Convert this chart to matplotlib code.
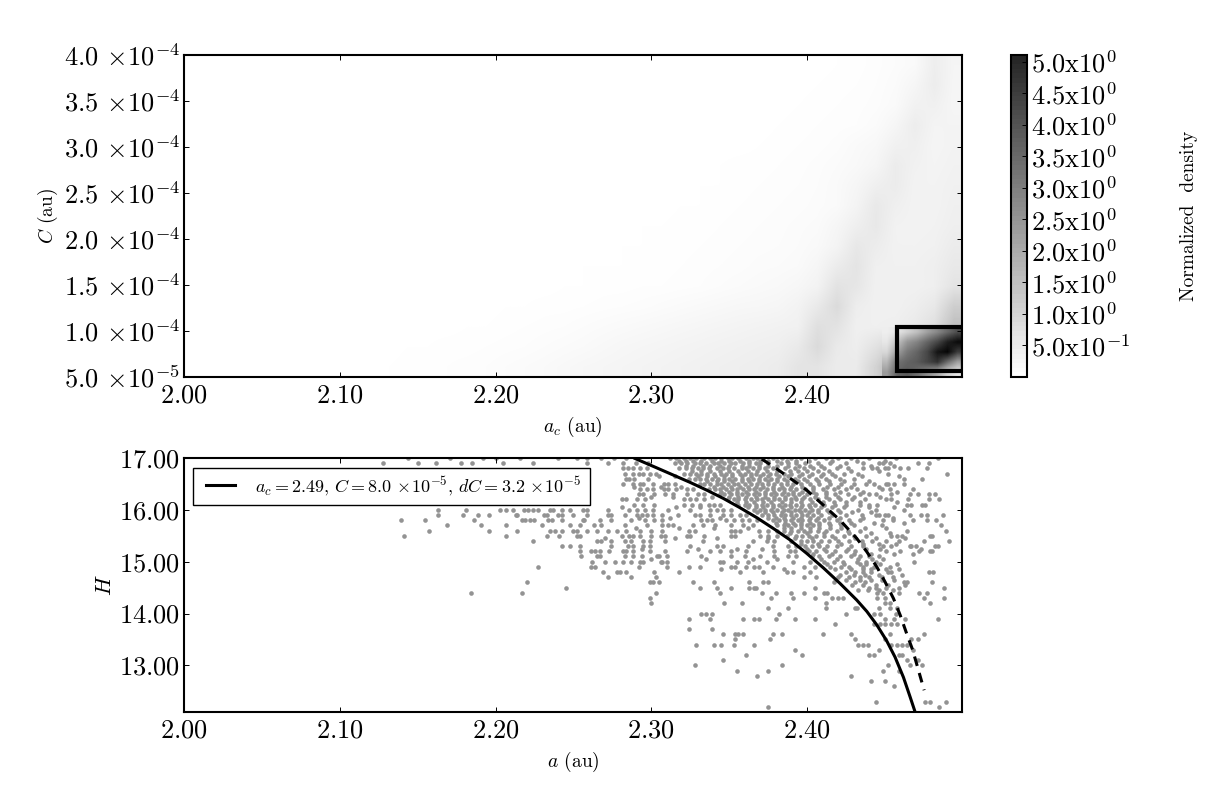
import numpy as np
import matplotlib
matplotlib.use('Agg')
from matplotlib import pyplot as plt
from matplotlib.colors import BoundaryNorm, LinearSegmentedColormap
from matplotlib.cm import ScalarMappable
from matplotlib.patches import Rectangle

plt.rcParams['font.family'] = ['cmr10', 'DejaVu Serif']
plt.rcParams['mathtext.fontset'] = 'cm'
plt.rcParams['axes.formatter.use_mathtext'] = True
plt.rcParams['axes.unicode_minus'] = False

# density, v*100, rows from C=4e-4 down to 5e-5, a from 2.10 to 2.50
density_rows = [
    [0,0,0,0,0,0,0,0,0,0,0,0,0,0,0,0,0,0,0,0,0,0,1,1,1,2,3,5,8,12,36,22],
    [0,0,0,0,0,0,0,0,0,0,0,0,0,0,0,0,0,0,0,0,0,1,1,1,2,3,4,6,10,20,38,20],
    [0,0,0,0,0,0,0,0,0,0,0,0,0,0,0,0,0,0,0,0,1,1,1,2,3,4,5,7,12,28,31,20],
    [0,0,0,0,0,0,0,0,0,0,0,0,0,0,0,0,0,0,0,1,1,1,2,3,4,5,6,10,20,38,24,24],
    [0,0,0,0,0,0,0,0,0,0,0,0,0,0,0,0,0,0,1,1,1,2,3,4,5,7,12,16,30,33,22,26],
    [0,0,0,0,0,0,0,0,0,0,0,0,0,0,0,0,0,1,1,2,3,3,4,5,7,10,14,21,40,29,24,28],
    [0,0,0,0,0,0,0,0,0,0,0,0,0,0,0,1,1,1,2,2,3,4,5,6,8,12,20,33,40,26,26,30],
    [0,0,0,0,0,0,0,0,0,0,0,0,0,1,1,1,1,2,2,3,4,5,6,7,9,12,24,46,33,26,26,32],
    [0,0,0,0,0,0,0,0,0,0,0,1,1,1,1,2,2,3,3,4,5,6,7,9,11,20,34,47,28,26,28,34],
    [0,0,0,0,0,0,0,0,0,1,1,1,1,1,2,2,3,3,4,5,6,7,8,10,14,24,48,39,28,28,30,40],
    [0,0,0,0,0,0,0,1,1,1,1,1,2,2,2,3,3,4,5,6,7,9,10,12,20,40,55,32,30,30,34,46],
    [0,0,0,0,0,1,1,1,1,1,1,2,2,3,3,4,4,5,6,8,10,12,14,18,26,58,51,30,30,30,34,56],
    [0,0,0,1,1,1,1,1,2,2,3,3,4,5,6,7,9,11,13,15,17,18,20,26,45,74,37,30,30,36,48,100],
    [0,0,1,1,1,1,2,2,3,4,5,6,8,10,12,14,16,18,20,22,24,26,28,30,65,58,32,32,34,44,66,130],
    [0,1,1,2,2,3,3,4,5,6,8,10,12,15,18,20,22,24,26,28,30,32,34,44,75,44,36,60,90,100,180,260],
    [1,1,2,3,3,4,5,6,8,10,12,15,18,20,22,24,26,28,30,32,34,36,40,55,55,40,42,90,160,200,300,260],
]
# finer reading of the lower right corner, a from 2.4482 to 2.50, C from 5e-5 to 1.04e-4
corner_rows = [
    [0.35, 0.5, 0.9, 1.3, 1.9, 2.4, 3.0, 3.6],
    [0.5, 1.2, 2.1, 2.5, 3.1, 3.7, 4.5, 4.9],
    [0.8, 1.9, 2.7, 3.1, 3.7, 4.7, 5.0, 3.9],
    [1.4, 2.8, 3.1, 3.3, 3.7, 4.1, 2.9, 1.9],
    [2.0, 3.1, 3.3, 2.9, 2.3, 1.7, 0.9, 0.5],
]

box_a = [2.4578, 2.5]
box_c = [5.65e-5, 1.043e-4]

top_y_ticks = [5e-5, 1e-4, 1.5e-4, 2e-4, 2.5e-4, 3e-4, 3.5e-4, 4e-4]
top_y_labels = [r'$5.0\,\times\!10^{-5}$', r'$1.0\,\times\!10^{-4}$', r'$1.5\,\times\!10^{-4}$',
                r'$2.0\,\times\!10^{-4}$', r'$2.5\,\times\!10^{-4}$', r'$3.0\,\times\!10^{-4}$',
                r'$3.5\,\times\!10^{-4}$', r'$4.0\,\times\!10^{-4}$']
a_ticks = [2.0, 2.1, 2.2, 2.3, 2.4]
a_labels = ['$2.00$', '$2.10$', '$2.20$', '$2.30$', '$2.40$']
h_ticks = [13, 14, 15, 16, 17]
h_labels = ['$13.00$', '$14.00$', '$15.00$', '$16.00$', '$17.00$']
cbar_ticks = [0.5, 1.0, 1.5, 2.0, 2.5, 3.0, 3.5, 4.0, 4.5, 5.0]
cbar_labels = [r'$\mathrm{5.0x10^{-1}}$', r'$\mathrm{1.0x10^{0}}$', r'$\mathrm{1.5x10^{0}}$',
               r'$\mathrm{2.0x10^{0}}$', r'$\mathrm{2.5x10^{0}}$', r'$\mathrm{3.0x10^{0}}$',
               r'$\mathrm{3.5x10^{0}}$', r'$\mathrm{4.0x10^{0}}$', r'$\mathrm{4.5x10^{0}}$',
               r'$\mathrm{5.0x10^{0}}$']

solid_a = [2.2896, 2.3035, 2.3142, 2.3249, 2.3356, 2.3463, 2.3570, 2.3677, 2.3784, 2.3891, 2.3998,
           2.4105, 2.4212, 2.4319, 2.4384, 2.4448, 2.4512, 2.4565, 2.4619, 2.4662, 2.4694]
solid_h = [16.99, 16.81, 16.67, 16.53, 16.38, 16.22, 16.04, 15.85, 15.64, 15.42, 15.16,
           14.88, 14.58, 14.26, 14.04, 13.78, 13.47, 13.16, 12.77, 12.39, 12.10]
dashed_a = [2.3709, 2.3806, 2.3891, 2.3998, 2.4105, 2.4212, 2.4319, 2.4384, 2.4448, 2.4501, 2.4555,
            2.4598, 2.4640, 2.4679, 2.4715, 2.4752]
dashed_h = [16.98, 16.79, 16.61, 16.38, 16.09, 15.80, 15.45, 15.19, 14.90, 14.61, 14.29,
            13.97, 13.61, 13.29, 12.91, 12.52]

# H comes mostly in 0.1 steps, so the asteroids are kept row by row
h_levels = [17.0, 16.9, 16.8, 16.7, 16.6, 16.5, 16.4, 16.3, 16.2, 16.1, 16.0, 15.9, 15.8, 15.7,
            15.6, 15.5, 15.4, 15.3, 15.2, 15.1, 15.0, 14.9, 14.8, 14.7, 14.6, 14.5, 14.4, 14.3,
            14.2, 14.1, 14.0, 13.9, 13.8, 13.7, 13.6, 13.5, 13.4, 13.3, 13.2, 13.1, 13.0, 12.9,
            12.8, 12.7, 12.6, 12.5, 12.4, 12.3, 12.2]
a_rows = [
    [2.144, 2.171, 2.192, 2.200, 2.216, 2.240, 2.252, 2.259, 2.268, 2.276, 2.284, 2.312, 2.316, 2.321, 2.325, 2.329,
     2.334, 2.338, 2.341, 2.345, 2.349, 2.352, 2.356, 2.361, 2.365, 2.368, 2.372, 2.378, 2.384, 2.390, 2.396, 2.405,
     2.412, 2.420, 2.428, 2.440, 2.457, 2.484],
    [2.128, 2.150, 2.162, 2.178, 2.185, 2.205, 2.224, 2.259, 2.272, 2.282, 2.290, 2.298, 2.315, 2.319, 2.323, 2.328,
     2.331, 2.335, 2.340, 2.343, 2.347, 2.351, 2.354, 2.359, 2.363, 2.367, 2.370, 2.375, 2.383, 2.388, 2.393, 2.399,
     2.407, 2.415, 2.425, 2.436, 2.446, 2.449, 2.453, 2.471, 2.478],
    [2.282, 2.285, 2.288, 2.293, 2.297, 2.318, 2.322, 2.326, 2.330, 2.333, 2.337, 2.342, 2.346, 2.349, 2.353, 2.358,
     2.361, 2.365, 2.369, 2.373, 2.378, 2.386, 2.392, 2.398, 2.404, 2.411, 2.419, 2.426, 2.436, 2.442, 2.445, 2.450,
     2.452, 2.460, 2.465, 2.477],
    [2.283, 2.288, 2.292, 2.295, 2.299, 2.303, 2.321, 2.325, 2.329, 2.332, 2.336, 2.340, 2.345, 2.348, 2.352, 2.357,
     2.360, 2.364, 2.367, 2.372, 2.376, 2.380, 2.385, 2.390, 2.397, 2.403, 2.410, 2.416, 2.424, 2.433, 2.452, 2.490],
    [2.284, 2.286, 2.289, 2.298, 2.324, 2.328, 2.331, 2.335, 2.339, 2.343, 2.347, 2.350, 2.354, 2.358, 2.362, 2.365,
     2.369, 2.373, 2.377, 2.381, 2.385, 2.392, 2.398, 2.406, 2.412, 2.421, 2.430, 2.462, 2.474],
    [2.282, 2.288, 2.293, 2.295, 2.301, 2.308, 2.311, 2.315, 2.331, 2.334, 2.338, 2.342, 2.345, 2.349, 2.353, 2.356,
     2.360, 2.364, 2.368, 2.371, 2.375, 2.379, 2.383, 2.387, 2.391, 2.396, 2.402, 2.408, 2.415, 2.422, 2.430, 2.438,
     2.443, 2.451, 2.452, 2.456, 2.462],
    [2.293, 2.297, 2.301, 2.308, 2.311, 2.316, 2.323, 2.327, 2.337, 2.341, 2.344, 2.348, 2.352, 2.355, 2.359, 2.363,
     2.366, 2.370, 2.374, 2.378, 2.382, 2.385, 2.389, 2.393, 2.399, 2.404, 2.410, 2.417, 2.425, 2.432, 2.448, 2.453,
     2.468],
    [2.292, 2.295, 2.302, 2.309, 2.314, 2.323, 2.330, 2.334, 2.344, 2.347, 2.351, 2.355, 2.358, 2.362, 2.366, 2.369,
     2.373, 2.377, 2.380, 2.384, 2.388, 2.391, 2.395, 2.400, 2.406, 2.412, 2.418, 2.426, 2.434, 2.440, 2.444, 2.454,
     2.466, 2.471, 2.478, 2.482],
    [2.281, 2.284, 2.291, 2.296, 2.321, 2.325, 2.329, 2.334, 2.349, 2.353, 2.356, 2.360, 2.364, 2.368, 2.371, 2.375,
     2.379, 2.382, 2.386, 2.390, 2.393, 2.397, 2.402, 2.407, 2.414, 2.421, 2.429, 2.437, 2.451, 2.454, 2.465, 2.478,
     2.485],
    [2.289, 2.295, 2.302, 2.321, 2.326, 2.331, 2.337, 2.340, 2.344, 2.356, 2.360, 2.363, 2.367, 2.371, 2.374, 2.378,
     2.382, 2.386, 2.389, 2.393, 2.397, 2.401, 2.405, 2.411, 2.418, 2.425, 2.434, 2.440, 2.445, 2.464, 2.467, 2.474,
     2.476],
    [2.163, 2.181, 2.203, 2.207, 2.211, 2.218, 2.221, 2.224, 2.227, 2.235, 2.237, 2.243, 2.248, 2.256, 2.259, 2.272,
     2.286, 2.291, 2.296, 2.301, 2.311, 2.325, 2.338, 2.342, 2.346, 2.351, 2.366, 2.370, 2.373, 2.377, 2.381, 2.385,
     2.388, 2.392, 2.395, 2.399, 2.403, 2.407, 2.413, 2.420, 2.433, 2.444, 2.462],
    [2.163, 2.179, 2.189, 2.196, 2.213, 2.214, 2.231, 2.233, 2.240, 2.243, 2.250, 2.259, 2.272, 2.274, 2.283, 2.291,
     2.294, 2.297, 2.301, 2.307, 2.317, 2.328, 2.331, 2.338, 2.346, 2.351, 2.357, 2.361, 2.371, 2.375, 2.379, 2.383,
     2.386, 2.390, 2.393, 2.397, 2.400, 2.404, 2.409, 2.416, 2.425, 2.435, 2.444, 2.446, 2.450, 2.452, 2.466, 2.473,
     2.477, 2.487],
    [2.139, 2.155, 2.186, 2.217, 2.219, 2.222, 2.225, 2.234, 2.236, 2.243, 2.256, 2.257, 2.267, 2.274, 2.287, 2.296,
     2.302, 2.307, 2.332, 2.336, 2.339, 2.348, 2.353, 2.358, 2.363, 2.368, 2.378, 2.382, 2.386, 2.390, 2.394, 2.397,
     2.401, 2.406, 2.411, 2.419, 2.427, 2.434, 2.449, 2.455, 2.468, 2.477, 2.483],
    [2.169, 2.191, 2.207, 2.230, 2.248, 2.254, 2.263, 2.268, 2.283, 2.297, 2.307, 2.311, 2.314, 2.327, 2.333, 2.341,
     2.351, 2.359, 2.365, 2.381, 2.385, 2.388, 2.392, 2.396, 2.400, 2.404, 2.408, 2.415, 2.422, 2.430, 2.448, 2.486],
    [2.157, 2.196, 2.214, 2.235, 2.238, 2.243, 2.250, 2.252, 2.259, 2.265, 2.272, 2.278, 2.284, 2.293, 2.300, 2.307,
     2.324, 2.328, 2.351, 2.354, 2.357, 2.369, 2.375, 2.381, 2.385, 2.390, 2.394, 2.398, 2.402, 2.407, 2.412, 2.419,
     2.426, 2.434, 2.464, 2.489],
    [2.141, 2.207, 2.233, 2.241, 2.252, 2.254, 2.281, 2.286, 2.288, 2.293, 2.300, 2.306, 2.309, 2.323, 2.325, 2.334,
     2.351, 2.354, 2.370, 2.375, 2.381, 2.387, 2.393, 2.397, 2.401, 2.406, 2.411, 2.416, 2.424, 2.430, 2.438, 2.454,
     2.458, 2.461, 2.479, 2.480],
    [2.224, 2.265, 2.268, 2.274, 2.283, 2.287, 2.295, 2.299, 2.309, 2.333, 2.365, 2.374, 2.379, 2.390, 2.396, 2.400,
     2.404, 2.409, 2.414, 2.420, 2.427, 2.435, 2.442, 2.451, 2.459, 2.475, 2.491],
    [2.243, 2.248, 2.254, 2.274, 2.285, 2.288, 2.295, 2.299, 2.325, 2.342, 2.346, 2.362, 2.378, 2.388, 2.393, 2.399,
     2.403, 2.408, 2.413, 2.419, 2.428, 2.436, 2.449, 2.454, 2.466, 2.467, 2.470, 2.482, 2.484],
    [2.254, 2.261, 2.264, 2.267, 2.273, 2.282, 2.284, 2.288, 2.299, 2.309, 2.323, 2.338, 2.344, 2.351, 2.361, 2.379,
     2.389, 2.392, 2.401, 2.406, 2.412, 2.418, 2.425, 2.431, 2.451, 2.460, 2.472, 2.479, 2.480],
    [2.255, 2.265, 2.267, 2.283, 2.288, 2.294, 2.304, 2.305, 2.310, 2.332, 2.351, 2.360, 2.370, 2.379, 2.388, 2.393,
     2.403, 2.408, 2.414, 2.421, 2.428, 2.434, 2.440, 2.446],
    [2.262, 2.270, 2.277, 2.282, 2.287, 2.293, 2.295, 2.306, 2.307, 2.310, 2.344, 2.346, 2.355, 2.362, 2.374, 2.391,
     2.402, 2.411, 2.417, 2.423, 2.432, 2.438, 2.444, 2.469],
    [2.227, 2.261, 2.264, 2.292, 2.310, 2.324, 2.331, 2.351, 2.354, 2.361, 2.366, 2.369, 2.378, 2.398, 2.405, 2.415,
     2.422, 2.427, 2.436, 2.443, 2.453],
    [2.269, 2.278, 2.280, 2.284, 2.302, 2.318, 2.357, 2.372, 2.387, 2.391, 2.402, 2.425, 2.431, 2.436, 2.441, 2.452,
     2.454, 2.478, 2.481],
    [2.272, 2.287, 2.303, 2.398, 2.406, 2.420, 2.434, 2.427, 2.440, 2.448, 2.455],
    [2.299, 2.301, 2.305, 2.220, 2.327, 2.340, 2.363, 2.372, 2.375, 2.417, 2.431, 2.437, 2.464, 2.480, 2.462],
    [2.245, 2.331, 2.342, 2.351, 2.363, 2.366, 2.367, 2.405, 2.440, 2.444, 2.451, 2.488, 2.459],
    [2.217, 2.184, 2.303, 2.344, 2.371, 2.380, 2.390, 2.398, 2.411, 2.413, 2.449, 2.459, 2.472, 2.477, 2.445],
    [2.299, 2.377, 2.405, 2.416, 2.420, 2.423, 2.391, 2.445, 2.450, 2.475, 2.488],
    [2.300, 2.347, 2.358, 2.412, 2.453, 2.450, 2.479],
    [2.375, 2.388, 2.431, 2.432, 2.412, 2.453, 2.446, 2.458],
    [2.332, 2.335, 2.339, 2.382, 2.425, 2.457, 2.443, 2.447],
    [2.324, 2.338, 2.359, 2.366, 2.369, 2.380, 2.392, 2.405, 2.484, 2.450, 2.456, 2.463],
    [2.418, 2.447, 2.454, 2.458, 2.443, 2.450],
    [2.324, 2.339],
    [2.346, 2.354, 2.356, 2.359, 2.378, 2.384, 2.410, 2.428, 2.453, 2.475],
    [2.354, 2.376, 2.431, 2.471, 2.467, 2.450],
    [2.329, 2.340, 2.345, 2.353, 2.366, 2.433, 2.436, 2.439, 2.461, 2.464, 2.454, 2.458],
    [2.392, 2.446, 2.468],
    [2.361, 2.397, 2.440, 2.443, 2.459, 2.461],
    [2.346, 2.471, 2.464],
    [2.328, 2.384, 2.452, 2.466, 2.474],
    [2.355, 2.375, 2.449, 2.459],
    [2.368, 2.428],
    [2.441, 2.450],
    [2.456],
    [],
    [],
    [2.444, 2.476, 2.479, 2.489],
    [2.375, 2.485],
]

# points that sit between the rows, mostly inside the crowded band
between_levels = [16.95, 16.85, 16.75, 16.65, 16.55, 16.45, 16.35, 16.25, 16.15, 16.05, 15.95, 15.85, 15.75,
                  15.65, 15.55, 15.45, 15.35, 15.25, 15.15, 15.05, 14.95, 14.85, 14.75, 14.65, 14.55, 14.45,
                  16.95, 16.85, 16.75, 16.65, 16.55, 16.45, 16.35, 16.25, 16.15, 16.05, 15.95, 15.85, 15.75, 15.65]
between_rows = [
    [2.318, 2.327, 2.339, 2.350, 2.363, 2.375, 2.387, 2.401, 2.416, 2.432, 2.450],
    [2.322, 2.333, 2.344, 2.358, 2.369, 2.381, 2.395, 2.409, 2.421, 2.441, 2.456],
    [2.326, 2.338, 2.350, 2.362, 2.374, 2.389, 2.400, 2.414, 2.428, 2.446],
    [2.305, 2.315, 2.330, 2.341, 2.352, 2.364, 2.375, 2.388, 2.401, 2.418, 2.435, 2.459],
    [2.336, 2.347, 2.358, 2.369, 2.381, 2.394, 2.407, 2.424, 2.440],
    [2.289, 2.306, 2.319, 2.340, 2.351, 2.362, 2.372, 2.384, 2.397, 2.413, 2.428, 2.446],
    [2.345, 2.355, 2.367, 2.379, 2.391, 2.404, 2.421, 2.436, 2.458],
    [2.300, 2.314, 2.339, 2.350, 2.361, 2.373, 2.386, 2.398, 2.412, 2.430, 2.447],
    [2.355, 2.366, 2.377, 2.390, 2.403, 2.417, 2.434, 2.458],
    [2.281, 2.316, 2.331, 2.362, 2.372, 2.384, 2.396, 2.409, 2.424, 2.440, 2.456],
    [2.368, 2.378, 2.390, 2.401, 2.414, 2.429, 2.441],
    [2.292, 2.312, 2.344, 2.375, 2.385, 2.396, 2.407, 2.421, 2.436, 2.455],
    [2.380, 2.391, 2.402, 2.414, 2.428, 2.443, 2.462],
    [2.290, 2.318, 2.340, 2.362, 2.385, 2.396, 2.408, 2.422, 2.437, 2.451],
    [2.389, 2.400, 2.411, 2.427, 2.441, 2.453],
    [2.270, 2.315, 2.342, 2.375, 2.392, 2.403, 2.418, 2.431, 2.444, 2.463],
    [2.396, 2.407, 2.422, 2.436, 2.446, 2.457],
    [2.294, 2.330, 2.355, 2.371, 2.400, 2.411, 2.426, 2.438, 2.447, 2.473],
    [2.404, 2.416, 2.430, 2.441, 2.456, 2.468],
    [2.300, 2.335, 2.365, 2.381, 2.409, 2.419, 2.433, 2.442, 2.449],
    [2.413, 2.424, 2.434, 2.438, 2.447, 2.458],
    [2.345, 2.385, 2.418, 2.428, 2.436, 2.441, 2.451, 2.459],
    [2.421, 2.430, 2.437, 2.446, 2.461],
    [2.425, 2.434, 2.441, 2.448, 2.456],
    [2.429, 2.436, 2.444, 2.452, 2.463],
    [2.433, 2.439, 2.446, 2.455],
    [2.322, 2.332, 2.345, 2.357, 2.370, 2.381, 2.393],
    [2.327, 2.338, 2.350, 2.363, 2.375, 2.388, 2.402],
    [2.332, 2.344, 2.356, 2.368, 2.381, 2.394, 2.407],
    [2.336, 2.347, 2.358, 2.370, 2.382, 2.395, 2.409],
    [2.342, 2.352, 2.363, 2.375, 2.387, 2.400, 2.414],
    [2.346, 2.357, 2.367, 2.378, 2.390, 2.404, 2.420],
    [2.350, 2.361, 2.373, 2.385, 2.397, 2.412],
    [2.356, 2.367, 2.379, 2.392, 2.405, 2.420],
    [2.361, 2.372, 2.384, 2.396, 2.410, 2.425],
    [2.367, 2.378, 2.390, 2.402, 2.416],
    [2.373, 2.384, 2.396, 2.407, 2.421],
    [2.380, 2.391, 2.402, 2.414],
    [2.386, 2.396, 2.408, 2.421],
    [2.390, 2.402, 2.415],
]

dens = np.array(density_rows) / 100.0
corner = np.array(corner_rows)
scatter_a = np.concatenate([np.array(r) for r in a_rows + between_rows if r])
scatter_h = np.concatenate([np.full(len(r), h) for r, h in zip(a_rows + between_rows, h_levels + between_levels) if r])

levels = np.linspace(0, 5.11, 71)
cmap = LinearSegmentedColormap.from_list('dens', ['#ffffff', '#000000'])
bar_cmap = LinearSegmentedColormap.from_list('bar', ['#ffffff', '#242424'])
norm = BoundaryNorm(levels, bar_cmap.N)

fig = plt.figure(figsize=(12.3, 7.92), dpi=100)
W, H = 1230.0, 792.0
ax1 = fig.add_axes([184 / W, 1 - 377 / H, 778 / W, 322 / H])
ax2 = fig.add_axes([184 / W, 1 - 712 / H, 778 / W, 254 / H])
cax = fig.add_axes([1011 / W, 1 - 377 / H, 16 / W, 322 / H])

ax1.imshow(dens, extent=[2.10, 2.50, 5e-5, 4e-4], aspect='auto', cmap=cmap, vmin=0, vmax=5.11,
           interpolation='bilinear')
ax1.imshow(corner, extent=[2.4482, 2.50, 5e-5, 1.04e-4], aspect='auto', cmap=cmap, vmin=0, vmax=5.11,
           interpolation='bilinear')
ax1.add_patch(Rectangle((box_a[0], box_c[0]), box_a[1] - box_a[0], box_c[1] - box_c[0],
                        fill=False, edgecolor='k', linewidth=3))
ax1.set_xlim(2.0, 2.4995)
ax1.set_ylim(5e-5, 4e-4)
ax1.set_xticks(a_ticks)
ax1.set_xticklabels(a_labels)
ax1.set_yticks(top_y_ticks)
ax1.set_yticklabels(top_y_labels)
ax1.set_xlabel(r'$a_c$ (au)', fontsize=14)
ax1.set_ylabel(r'$C$ (au)', fontsize=14)

ax2.scatter(scatter_a, scatter_h, s=11, c='#939393', linewidths=0, zorder=1)
ax2.plot(solid_a, solid_h, color='k', lw=2.2, zorder=2,
         label=r'$a_c=$2.49, $C=$8.0$\,\times\!10^{-5}$, $dC=$3.2$\,\times\!10^{-5}$')
ax2.plot(dashed_a, dashed_h, color='k', lw=2.2, ls='--', dashes=(3.2, 2.4), zorder=2)
ax2.set_xlim(2.0, 2.4995)
ax2.set_ylim(12.1, 17.0)
ax2.set_xticks(a_ticks)
ax2.set_xticklabels(a_labels)
ax2.set_yticks(h_ticks)
ax2.set_yticklabels(h_labels)
ax2.set_xlabel(r'$a$ (au)', fontsize=14)
ax2.set_ylabel(r'$H$', fontsize=16)

# legend frame is drawn apart because its padding differs in x and y
ax2.add_patch(Rectangle((9 / 778, 1 - 47 / 254), 397 / 778, 37 / 254, transform=ax2.transAxes,
                        facecolor='w', edgecolor='k', linewidth=1.0, zorder=4))
leg = ax2.legend(loc='upper left', fontsize=13, frameon=False, borderpad=0, borderaxespad=0,
                 handlelength=1.6, handletextpad=1.1, bbox_to_anchor=(22 / 778, 1 - 16 / 254))
leg.set_zorder(5)

for ax in (ax1, ax2):
    ax.tick_params(which='both', direction='in', top=True, right=True, length=3.5, width=0.7,
                   labelsize=19)
    ax.tick_params(axis='y', pad=3)
    ax.tick_params(axis='x', pad=5)
    for sp in ax.spines.values():
        sp.set_linewidth(1.5)
ax1.xaxis.labelpad = 5
ax2.xaxis.labelpad = 5
ax1.yaxis.labelpad = 3
ax2.yaxis.labelpad = 3

sm = ScalarMappable(norm=norm, cmap=bar_cmap)
cb = fig.colorbar(sm, cax=cax, ticks=cbar_ticks, spacing='proportional', drawedges=False)
cb.ax.minorticks_off()
cb.ax.set_yticks(cbar_ticks)
cb.ax.set_yticklabels(cbar_labels)
cb.ax.tick_params(direction='in', length=3.5, width=0.7, labelsize=19, pad=3)
cb.outline.set_linewidth(1.5)
fig.text(1189 / W, 1 - 216 / H, 'Normalized  density', rotation=90, ha='center', va='center', fontsize=14)

fig.savefig('out.png', dpi=100)
plt.close(fig)
